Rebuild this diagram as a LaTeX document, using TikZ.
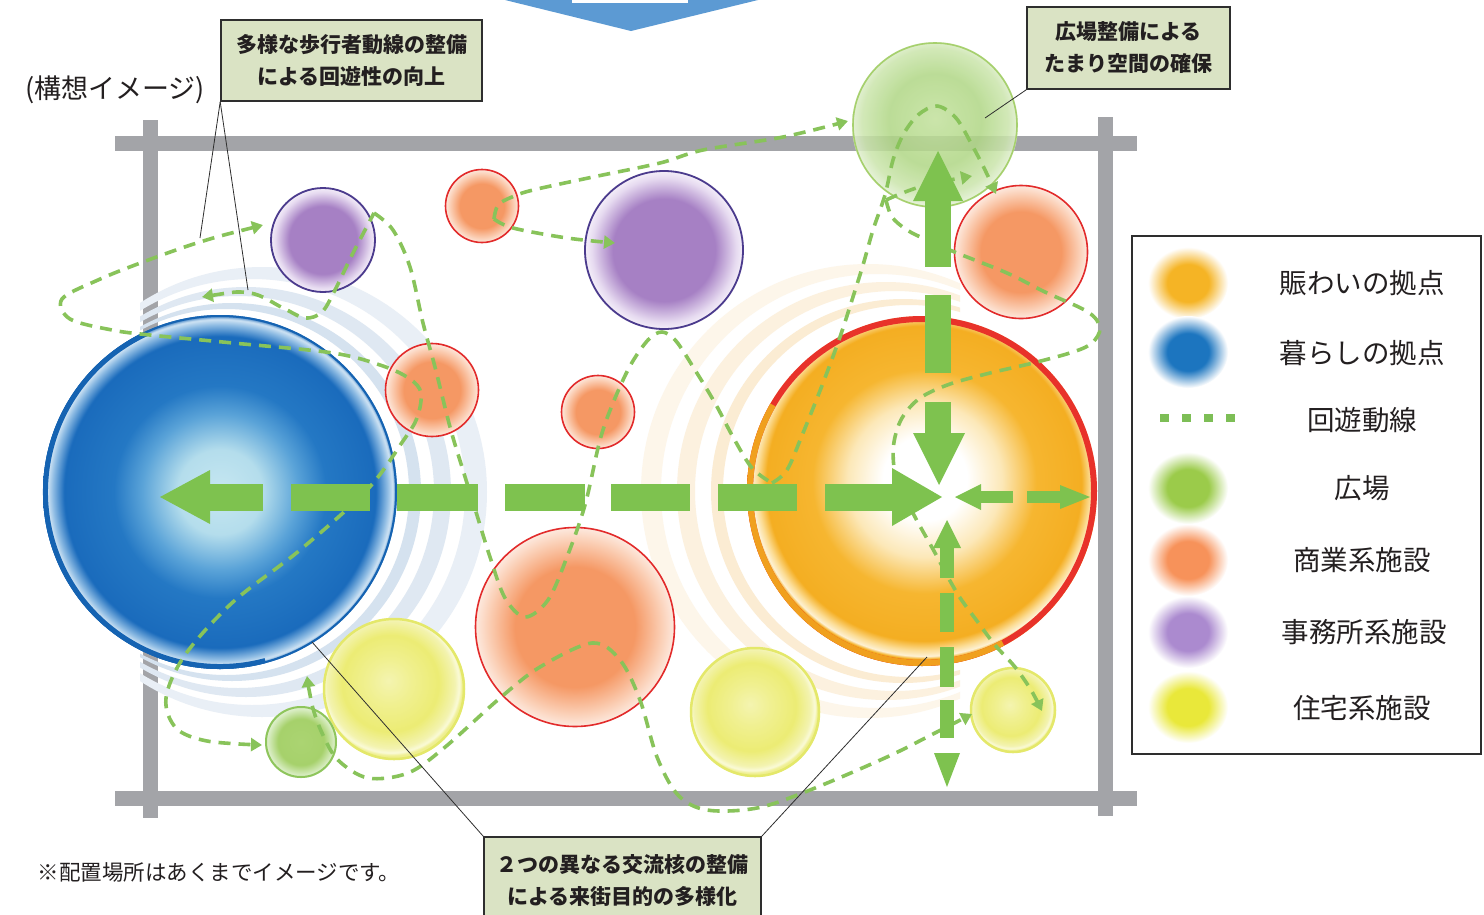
\documentclass[tikz,border=0pt]{standalone}
\usepackage{fontspec}
\setmainfont{Noto Sans CJK JP}
\usetikzlibrary{arrows.meta}

\definecolor{roadgray}{HTML}{A3A4A8}
\definecolor{agreen}{HTML}{7EC24F}
\definecolor{dgreen}{HTML}{88C35A}
\definecolor{boxfill}{HTML}{DAE3C4}
\definecolor{boxline}{HTML}{2E2E2E}
\definecolor{txt}{HTML}{231F20}
\definecolor{topblue}{HTML}{5C9AD3}
% blue core
\definecolor{blA}{HTML}{C6E7F1}
\definecolor{blB}{HTML}{B4DDEC}
\definecolor{blC}{HTML}{5AA3D8}
\definecolor{blD}{HTML}{2478C4}
\definecolor{blE}{HTML}{1A6BBC}
\definecolor{blR}{HTML}{8DBBE3}
\definecolor{blS}{HTML}{D0E4F4}
\definecolor{blEdge}{HTML}{1E6AB8}
\definecolor{blLine}{HTML}{1563B2}
\definecolor{ripBa}{HTML}{E9EFF6}
\definecolor{ripBb}{HTML}{DFE8F2}
\definecolor{ripBc}{HTML}{D5E2EF}
% orange core
\definecolor{ocB}{HTML}{FCE8B8}
\definecolor{ocC}{HTML}{F6B630}
\definecolor{ocD}{HTML}{F4AE22}
\definecolor{ocR}{HTML}{FCDD96}
\definecolor{ocS}{HTML}{FDF1D4}
\definecolor{ocRed}{HTML}{E8322A}
\definecolor{ocOr}{HTML}{F0A01E}
\definecolor{ripOa}{HTML}{FDF6EA}
\definecolor{ripOb}{HTML}{FCF1DF}
\definecolor{ripOc}{HTML}{FBECD3}
% facilities
\definecolor{cmA}{HTML}{F59864}
\definecolor{cmB}{HTML}{FBD2BA}
\definecolor{cmC}{HTML}{FDEAE0}
\definecolor{cmLine}{HTML}{E22B2B}
\definecolor{puA}{HTML}{A680C4}
\definecolor{puB}{HTML}{E6DAF0}
\definecolor{puC}{HTML}{F6F1FA}
\definecolor{puLine}{HTML}{4B3B8D}
\definecolor{yeA}{HTML}{F4F4B0}
\definecolor{yeB}{HTML}{F0F090}
\definecolor{yeC}{HTML}{ECEC74}
\definecolor{yeD}{HTML}{F3F3B0}
\definecolor{yeE}{HTML}{FAFAD8}
\definecolor{yeF}{HTML}{EFEF90}
\definecolor{yeLine}{HTML}{E4E86A}
\definecolor{grA}{HTML}{ABD472}
\definecolor{grB}{HTML}{A6D16B}
\definecolor{grC}{HTML}{D5EBBD}
\definecolor{grD}{HTML}{E5F3D6}
\definecolor{grLine}{HTML}{8EC55C}
\definecolor{plA}{HTML}{C2E19C}
\definecolor{plB}{HTML}{B0D785}
\definecolor{plC}{HTML}{CBE5AC}
\definecolor{plD}{HTML}{E0EFCF}
\definecolor{plLine}{HTML}{A6D06D}
% legend blobs
\definecolor{lgOr}{HTML}{F5B425}
\definecolor{lgBl}{HTML}{1C75BF}
\definecolor{lgGr}{HTML}{9BCB4A}
\definecolor{lgCm}{HTML}{F7925A}
\definecolor{lgPu}{HTML}{AB8ACF}
\definecolor{lgYe}{HTML}{E9E83A}
\definecolor{lgDot}{HTML}{7DBE56}

\pgfdeclareradialshading{shBlue}{\pgfpoint{0bp}{0bp}}{color(0bp)=(blA); color(6bp)=(blB); color(11bp)=(blC); color(15bp)=(blD); color(22bp)=(blE); color(23.6bp)=(blR); color(24.4bp)=(blS); color(25bp)=(blEdge); color(50bp)=(blEdge)}
\pgfdeclareradialshading{shOrange}{\pgfpoint{0.5bp}{2bp}}{color(0bp)=(white); color(6bp)=(white); color(11bp)=(ocB); color(16bp)=(ocC); color(22.5bp)=(ocD); color(23.8bp)=(ocR); color(24.6bp)=(ocS); color(25bp)=(ocD); color(50bp)=(ocD)}
\pgfdeclareradialshading{shCom}{\pgfpoint{0bp}{0bp}}{color(0bp)=(cmA); color(15bp)=(cmA); color(22bp)=(cmB); color(25bp)=(cmC); color(50bp)=(cmC)}
\pgfdeclareradialshading{shPur}{\pgfpoint{0bp}{0bp}}{color(0bp)=(puA); color(16bp)=(puA); color(22.5bp)=(puB); color(25bp)=(puC); color(50bp)=(puC)}
\pgfdeclareradialshading{shYel}{\pgfpoint{-2bp}{3bp}}{color(0bp)=(yeA); color(8bp)=(yeB); color(17bp)=(yeC); color(22.5bp)=(yeD); color(24bp)=(yeE); color(25bp)=(yeF); color(50bp)=(yeF)}
\pgfdeclareradialshading{shGrn}{\pgfpoint{0bp}{0bp}}{color(0bp)=(grA); color(16bp)=(grB); color(22.5bp)=(grC); color(25bp)=(grD); color(50bp)=(grD)}
\pgfdeclareradialshading{shPlz}{\pgfpoint{0bp}{2bp}}{color(0bp)=(plA); color(14bp)=(plB); color(22bp)=(plC); color(25bp)=(plD); color(50bp)=(plD)}
\newcommand\declblob[2]{\pgfdeclareradialshading{#1}{\pgfpoint{0bp}{0bp}}{color(0bp)=(#2); color(13bp)=(#2); color(25bp)=(white); color(50bp)=(white)}}
\declblob{blobOr}{lgOr}
\declblob{blobBl}{lgBl}
\declblob{blobGr}{lgGr}
\declblob{blobCm}{lgCm}
\declblob{blobPu}{lgPu}
\declblob{blobYe}{lgYe}

\tikzset{
  road/.style={draw=roadgray, line width=15pt},
  dl/.style={draw=dgreen, line width=3.6pt, dash pattern=on 12pt off 8pt},
  >={Triangle[length=11pt,width=13pt]},
  bigarrow/.style={fill=agreen},
  callout/.style={draw=boxline, line width=1.6pt, fill=boxfill, inner sep=0pt, align=center, text=txt, font=\fontsize{21pt}{32pt}\selectfont\bfseries},
  leader/.style={draw=boxline, line width=0.8pt},
  lgtext/.style={inner sep=0pt, text=txt, font=\fontsize{27.5pt}{30pt}\selectfont},
  comc/.style={shading=shCom},
  comline/.style={draw=cmLine, line width=1.6pt},
  purline/.style={draw=puLine, line width=1.8pt},
  yelline/.style={draw=yeLine, line width=2.5pt},
  grnline/.style={draw=grLine, line width=2pt},
}

\begin{document}
\begin{tikzpicture}[x=1pt,y=-1pt]
\useasboundingbox (0,0) rectangle (1484,914);
\fill[white] (0,0) rectangle (1484,914);

% roads
\draw[road] (115,143) -- (1137,143);
\draw[road] (115,798) -- (1137,798);
\draw[road] (150,120) -- (150,818);
\draw[road] (1105,117) -- (1105,816);

% blue base (living) with ripples
\coordinate (cB) at (220,492);
\begin{scope}
\clip (140,230) rectangle (520,760);
\fill[ripBa, even odd rule] (262,492) circle[radius=225pt] (252,492) circle[radius=213pt];
\fill[ripBb, even odd rule] (246,492) circle[radius=205pt] (238,492) circle[radius=196pt];
\fill[ripBc, even odd rule] (232,492) circle[radius=189pt] (226,492) circle[radius=183pt];
\end{scope}
\shade[shading=shBlue] (cB) circle[radius=177pt];
\draw[draw=blLine, line width=2pt] (cB) circle[radius=176pt];
\draw[draw=blLine, line width=5pt] (cB) ++(115:174.5pt) arc[start angle=115, end angle=285, radius=174.5pt];

% orange base (bustle) with ripples
\coordinate (cO) at (922,491);
\begin{scope}
\clip (620,230) rectangle (960,740);
\fill[ripOa, even odd rule] (868,491) circle[radius=227pt] (878,491) circle[radius=217pt];
\fill[ripOb, even odd rule] (886,491) circle[radius=209pt] (895,491) circle[radius=200pt];
\fill[ripOc, even odd rule] (903,491) circle[radius=192pt] (909,491) circle[radius=186pt];
\end{scope}
\shade[shading=shOrange] (cO) circle[radius=175pt];
\draw[draw=ocRed, line width=6pt] (cO) circle[radius=172pt];
\draw[draw=ocOr, line width=6pt] (cO) ++(150:172pt) arc[start angle=150, end angle=298, radius=172pt];

% facilities
\coordinate (P1) at (323,240);
\coordinate (P2) at (664,250);
\shade[shading=shPur] (P1) circle[radius=53pt]; \draw[purline] (P1) circle[radius=52pt];
\shade[shading=shPur] (P2) circle[radius=80pt]; \draw[purline] (P2) circle[radius=79pt];
\coordinate (O1) at (482,206);
\coordinate (O2) at (432,390);
\coordinate (O3) at (598,412);
\coordinate (O4) at (575,627);
\coordinate (O5) at (1021,252);
\shade[comc] (O1) circle[radius=37pt]; \draw[comline] (O1) circle[radius=36.5pt];
\shade[comc] (O2) circle[radius=47pt]; \draw[comline] (O2) circle[radius=46.5pt];
\shade[comc] (O3) circle[radius=37pt]; \draw[comline] (O3) circle[radius=36.5pt];
\shade[comc] (O4) circle[radius=100pt]; \draw[comline] (O4) circle[radius=99.5pt];
\shade[comc] (O5) circle[radius=67pt]; \draw[comline] (O5) circle[radius=66.5pt];
\coordinate (Y1) at (394,689);
\coordinate (Y2) at (755,712);
\coordinate (Y3) at (1013,710);
\shade[shading=shYel] (Y1) circle[radius=71pt]; \draw[yelline] (Y1) circle[radius=70pt];
\shade[shading=shYel] (Y2) circle[radius=65pt]; \draw[yelline] (Y2) circle[radius=64pt];
\shade[shading=shYel] (Y3) circle[radius=43pt]; \draw[yelline] (Y3) circle[radius=42pt];
\coordinate (G1) at (301,742);
\shade[shading=shGrn] (G1) circle[radius=36pt]; \draw[grnline] (G1) circle[radius=35pt];
\coordinate (PZ) at (935,125);
\shade[shading=shPlz, opacity=0.85] (PZ) circle[radius=83pt];
\draw[draw=plLine, line width=1.6pt] (PZ) circle[radius=82pt];

% dashed circulation routes
\draw[dl,<->] plot[smooth, tension=0.55] coordinates {(263,225) (200,242) (143,262) (98,280) (62,299) (70,319) (112,330) (150,335) (233,343) (333,353) (383,366) (410,379) (421,393) (417,418) (403,441) (367,490) (300,550) (233,602) (185,655) (166,698) (176,728) (207,741) (262,745)};
\draw[dl,<->] plot[smooth, tension=0.55] coordinates {(307,676) (312,705) (322,733) (338,760) (368,778) (408,773) (444,748) (500,698) (540,667) (592,643) (620,660) (640,700) (657,757) (678,795) (707,810) (757,808) (810,790) (887,757) (933,734) (972,714)};
\draw[dl,<-] plot[smooth, tension=0.55] coordinates {(202,297) (250,293) (283,308) (305,318) (322,312) (335,290) (352,255) (374,213)};
\draw[dl] plot[smooth, tension=0.55] coordinates {(374,213) (393,230) (410,267) (423,323) (435,367) (450,427) (462,467) (476,512) (490,557) (505,598) (525,617) (548,600) (567,557) (585,505) (600,440) (613,403) (630,366) (648,340) (662,332) (676,341) (695,370) (715,403) (733,437) (752,468) (772,483)};
\draw[dl,->] plot[smooth, tension=0.55] coordinates {(494,219) (498,205) (512,197) (533,190) (593,177) (660,163) (703,150) (783,137) (848,121)};
\draw[dl,->] plot[smooth, tension=0.55] coordinates {(494,219) (513,228) (567,238) (615,243)};
\draw[dl,->] plot[smooth, tension=0.55] coordinates {(772,483) (787,470) (803,433) (823,383) (840,337) (852,300) (863,265) (873,230) (885,195) (893,160) (903,135) (918,115) (937,106) (956,118) (972,145) (986,172) (996,194)};
\draw[dl,->] plot[smooth, tension=0.55] coordinates {(886,200) (905,192) (930,184) (972,176)};
\draw[dl,->] plot[smooth, tension=0.55] coordinates {(886,200) (892,217) (907,230) (927,240) (957,253) (1007,273) (1045,292) (1088,312) (1100,328) (1092,343) (1073,352) (1033,363) (990,373) (950,384) (920,398) (902,418) (894,442) (894,467) (901,488) (915,517) (934,551) (957,593) (977,621) (995,645) (1015,667) (1031,690) (1042,711)};

% big green arrows: horizontal axis
\fill[bigarrow] (160,497) -- (210,470) -- (210,524) -- cycle;
\fill[bigarrow] (209,484) rectangle (263,511);
\fill[bigarrow] (291,484) rectangle (370,511);
\fill[bigarrow] (397,484) rectangle (478,511);
\fill[bigarrow] (505,484) rectangle (585,511);
\fill[bigarrow] (611,484) rectangle (690,511);
\fill[bigarrow] (718,484) rectangle (797,511);
\fill[bigarrow] (825,484) rectangle (893,511);
\fill[bigarrow] (892,468) -- (942,497) -- (892,526) -- cycle;
% vertical axis to plaza
\fill[bigarrow] (913,201) -- (938,151) -- (963,201) -- cycle;
\fill[bigarrow] (925,200) rectangle (951,267);
\fill[bigarrow] (925,295) rectangle (951,373);
\fill[bigarrow] (925,402) rectangle (951,434);
\fill[bigarrow] (913,433) -- (965,433) -- (939,485) -- cycle;
% right small arrows
\fill[bigarrow] (955,497) -- (981,484) -- (981,510) -- cycle;
\fill[bigarrow] (980,491) rectangle (1013,503);
\fill[bigarrow] (1027,491) rectangle (1061,503);
\fill[bigarrow] (1060,485) -- (1090,497) -- (1060,509) -- cycle;
% downward
\fill[bigarrow] (947,520) -- (933,548) -- (961,548) -- cycle;
\fill[bigarrow] (940,547) rectangle (954,578);
\fill[bigarrow] (940,593) rectangle (954,632);
\fill[bigarrow] (940,647) rectangle (954,687);
\fill[bigarrow] (940,700) rectangle (954,738);
\fill[bigarrow] (934,753) -- (960,753) -- (947,787) -- cycle;

% top blue arrow
\fill[topblue] (505,0) -- (758,0) -- (631,31) -- cycle;
\fill[white] (572,-2) rectangle (688,3);

% callouts
\node[callout, minimum width=261pt, minimum height=81pt] (boxA) at (351.5,60.5) {多様な歩行者動線の整備\\による回遊性の向上};
\node[callout, minimum width=203pt, minimum height=82pt] (boxB) at (1128.5,48) {広場整備による\\たまり空間の確保};
\node[callout, minimum width=277pt, minimum height=88pt] (boxC) at (622.5,881) {２つの異なる交流核の整備\\による来街目的の多様化};
\coordinate (tA1) at (200,238);
\coordinate (tA2) at (248,290);
\coordinate (tB) at (985,118);
\coordinate (tC1) at (312,642);
\coordinate (tC2) at (927,657);
\draw[leader] (boxA.south west) -- (tA1);
\draw[leader] (boxA.south west) -- (tA2);
\draw[leader] (boxB.south west) -- (tB);
\draw[leader] (boxC.north west) -- (tC1);
\draw[leader] (boxC.north east) -- (tC2);

% free texts
\node[inner sep=0pt, text=txt, font=\fontsize{27pt}{30pt}\selectfont] (title) at (115,90) {(構想イメージ)};
\node[inner sep=0pt, text=txt, font=\fontsize{21.5pt}{24pt}\selectfont] (note) at (219,872) {※配置場所はあくまでイメージです。};

% legend
\node[draw=boxline, line width=1.3pt, fill=white, minimum width=349pt, minimum height=518pt, inner sep=0pt] (legend) at (1306.5,495) {};
\shade[shading=blobOr] (1188,283) ellipse[x radius=40pt, y radius=36pt];
\shade[shading=blobBl] (1188,352) ellipse[x radius=40pt, y radius=36pt];
\foreach \dx in {1164,1186,1208,1230} {\fill[lgDot] (\dx-4.5,414) rectangle (\dx+4.5,422);}
\shade[shading=blobGr] (1188,488) ellipse[x radius=40pt, y radius=36pt];
\shade[shading=blobCm] (1188,560) ellipse[x radius=40pt, y radius=36pt];
\shade[shading=blobPu] (1188,632) ellipse[x radius=40pt, y radius=36pt];
\shade[shading=blobYe] (1188,707) ellipse[x radius=40pt, y radius=36pt];
\node[lgtext] (l1) at (1362,283) {賑わいの拠点};
\node[lgtext] (l2) at (1362,353) {暮らしの拠点};
\node[lgtext] (l3) at (1362,420) {回遊動線};
\node[lgtext] (l4) at (1362,488) {広場};
\node[lgtext] (l5) at (1362,560) {商業系施設};
\node[lgtext] (l6) at (1364,632) {事務所系施設};
\node[lgtext] (l7) at (1362,708) {住宅系施設};
\end{tikzpicture}
\end{document}
